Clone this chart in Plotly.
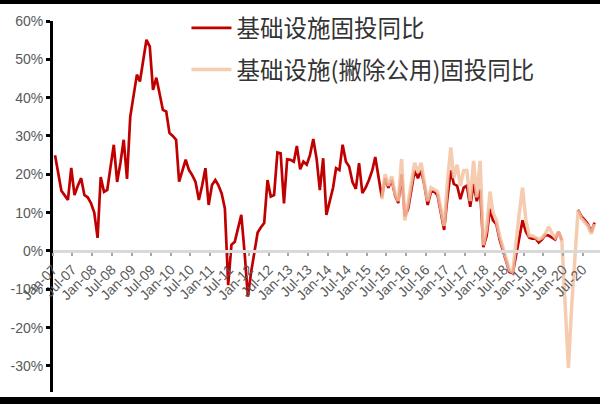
import pandas as pd
import plotly.graph_objects as go

# ---- data (monthly, Jan-07 .. Oct-20), %
infra_2007 = [25, 20, 15.7, 14.5, 13.3, 21.7, 14.6, 17, 19, 14.6, 14, 12.5]
infra_2008 = [10, 3.4, 19.3, 15.4, 15.9, 22, 27.7, 18, 23, 29, 18.8, 35]
infra_2009 = [41, 46, 44.2, 50, 55.1, 53.3, 42, 45.2, 41, 36.8, 36.4, 30.8]
infra_2010 = [30, 29, 18.1, 21, 23.8, 21.1, 19.8, 18, 13.3, 17, 21.6, 12]
infra_2011 = [17.2, 18.5, 17.2, 15, 11.1, -8.9, 1.6, 2.4, 6, 9.4, -0.6, -11.9]
infra_2012 = [-5.4, 0, 4.8, 6.2, 7.3, 18.5, 14.2, 14.6, 25.7, 25.5, 12.4, 23.9]
infra_2013 = [23.8, 23.3, 27.4, 21.3, 23.3, 22.5, 25, 29.2, 24, 15.9, 24.2, 9.4]
infra_2014 = [13, 16.5, 21.6, 21.1, 27.7, 23.3, 22, 18, 16.2, 22.9, 15.1, 16.5]
infra_2015 = [18.5, 21, 24.5, 19, 14, 19, 16.5, 18.5, 14.5, 12.5, 20, 9]
infra_2016 = [11, 16, 21, 19, 21, 17, 12, 15.5, 15.5, 14.5, 10, 5.5]
infra_2017 = [14, 21, 17.5, 17, 13.5, 16.5, 17, 11.5, 17.5, 13, 16, 1]
infra_2018 = [4, 11, 8, 7, 3, 0, -2.5, -5.5, -5.8, -1, 3, 8]
infra_2019 = [5, 3.5, 3.2, 3.3, 2.2, 3, 4.2, 4, 3.5, 3, 5, 2.8]
infra_2020 = [None, None, None, None, 10.7, 9, 8.1, 7, 5, 7.4]

ex_2015 = [None, None, None, None, 13.5, 20, 17, 19.5, 15, 13, 24, 8]
ex_2016 = [12.5, 18, 23, 20.5, 23, 17.5, 13, 16.5, 16, 15.5, 11, 6.5]
ex_2017 = [18, 27, 19, 22.5, 17, 21, 21, 13, 23.5, 14, 23.5, 1.5]
ex_2018 = [6, 15.5, 10, 8, 4, 1, -2, -5, -5.5, 3, 10, 16.5]
ex_2019 = [8, 4, 4, 3.5, 3, 3.5, 4.5, 6.3, 4.6, 3.5, 5, 3]
ex_2020 = [-14, -30.5, -15, -1, 10.5, 8.5, 7.5, 6.5, 4.5, 7]

infra = (infra_2007 + infra_2008 + infra_2009 + infra_2010 + infra_2011 + infra_2012 +
         infra_2013 + infra_2014 + infra_2015 + infra_2016 + infra_2017 + infra_2018 +
         infra_2019 + infra_2020)
ex_util = [None] * 96 + ex_2015 + ex_2016 + ex_2017 + ex_2018 + ex_2019 + ex_2020

dates = pd.date_range("2007-01-01", periods=len(infra), freq="MS") + pd.Timedelta(days=19)
tick_dates = pd.date_range("2007-01-01", "2020-07-01", freq="6MS")
tick_text = [d.strftime("%b-%y") for d in tick_dates]
y_ticks = [-30, -20, -10, 0, 10, 20, 30, 40, 50, 60]

name_a = "基础设施固投同比"
name_b = "基础设施(撇除公用)固投同比"

fig = go.Figure()
fig.add_trace(go.Scatter(x=dates, y=infra, mode="lines", name=name_a,
                         line=dict(color="#C00000", width=2.7), legendgroup="a",
                         connectgaps=False))
fig.add_trace(go.Scatter(x=dates, y=ex_util, mode="lines", name=name_b,
                         line=dict(color="#F4C4A2", width=3.5), opacity=0.85,
                         legendgroup="b", connectgaps=False))

# bottom frame bar (the top one is added on the page, see post_script)
PH = 371.0
fig.add_shape(type="rect", xref="paper", yref="paper", x0=-0.1, x1=1.01,
              y0=(388 - 400) / PH, y1=(388 - 393) / PH, fillcolor="black", line_width=0,
              layer="above")

fig.update_layout(
    width=600, height=400,
    margin=dict(l=53, r=0, t=17, b=12, autoexpand=False),
    paper_bgcolor="white", plot_bgcolor="white",
    font=dict(family="Liberation Sans, Arial", color="#595959", size=14),
    legend=dict(x=0.244, y=1.04, xanchor="left", yanchor="top",
                font=dict(family="Noto Sans CJK SC", size=23.5, color="#333333"),
                bgcolor="rgba(0,0,0,0)", tracegroupgap=8, itemwidth=40),
    showlegend=True,
)
fig.update_xaxes(
    type="date", range=["2007-01-01", "2020-12-10"],
    anchor="free", position=(0 + 36.8) / 96.8,
    showline=True, linecolor="#D9D9D9", linewidth=3,
    ticks="outside", ticklen=3, tickwidth=2, tickcolor="#A6A6A6",
    tickmode="array", tickvals=tick_dates, ticktext=tick_text,
    tickangle=-45, tickfont=dict(size=14, color="#595959"),
    showgrid=False, zeroline=False,
)
fig.update_yaxes(
    range=[-36.8, 60], showline=True, linecolor="black", linewidth=3,
    ticks="outside", ticklen=4, tickwidth=3, tickcolor="black",
    tickmode="array", tickvals=y_ticks, ticktext=[f"{v}%" for v in y_ticks],
    tickfont=dict(size=14, color="#595959"),
    showgrid=False, zeroline=False,
)
fig.write_html("out.html", config={"displayModeBar": False},
               post_script=("document.body.style.margin='0';document.body.style.padding='0';"
                            "document.body.style.borderTop='4px solid black';"
                            "var fr=document.createElement('div');"
                            "fr.style.cssText='position:fixed;left:0;top:0;width:100%;height:4px;"
                            "background:#000;z-index:9999;';"
                            "document.body.appendChild(fr);"))
